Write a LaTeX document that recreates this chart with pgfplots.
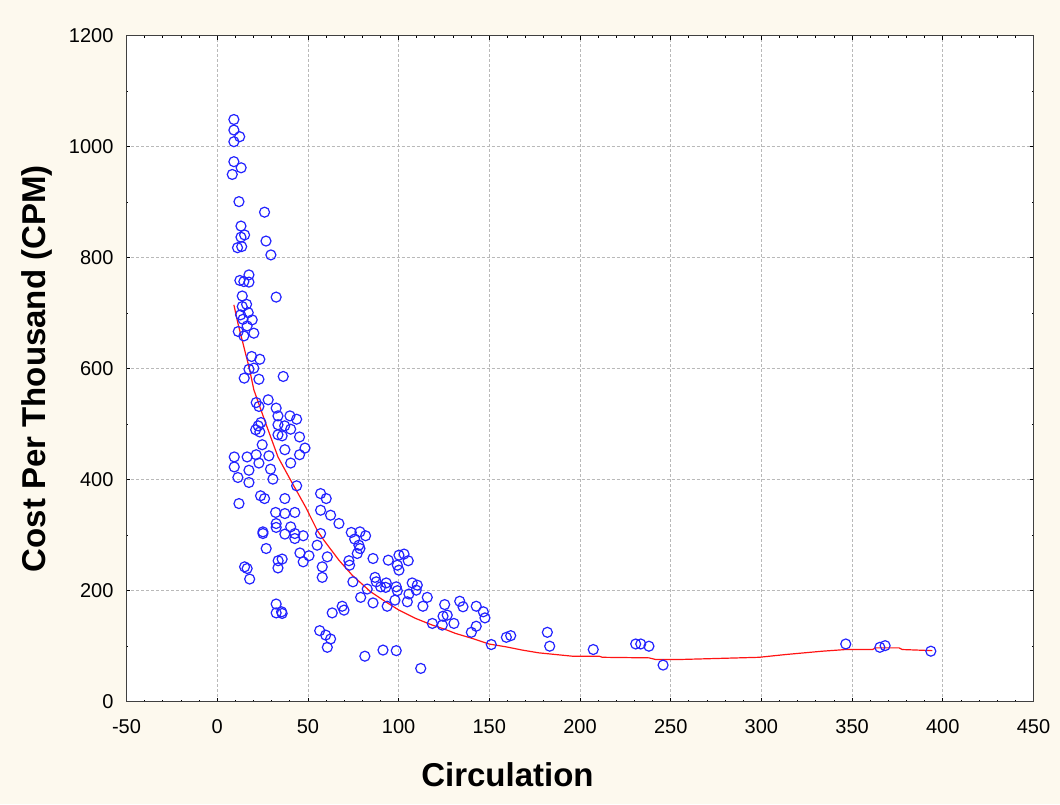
\documentclass[border=0pt]{standalone}
\usepackage{pgfplots}
\pgfplotsset{compat=1.18}
\usepackage{fontspec}
\setmainfont{Liberation Sans}
\definecolor{bgcream}{RGB}{253,249,238}
\definecolor{ptblue}{RGB}{35,35,255}
\definecolor{fitred}{RGB}{255,20,20}
\begin{document}
\begin{tikzpicture}
\fill[bgcream] (-63.25pt,-51.15pt) rectangle (466.75pt,350.85pt);
\begin{axis}[
  at={(0,0)}, anchor=south west,
  scale only axis, width=453.5pt, height=333pt,
  xmin=-50, xmax=450, ymin=0, ymax=1200,
  xtick={-50,0,50,100,150,200,250,300,350,400,450},
  xticklabels={-50,0,50,100,150,200,250,300,350,400,450},
  ytick={0,200,400,600,800,1000,1200},
  yticklabels={0,200,400,600,800,1000,1200},
  minor x tick num=4, minor y tick num=1,
  tick align=inside,
  major tick length=2pt, minor tick length=1pt,
  tick style={black, line width=0.4pt},
  axis line style={draw=black!75, line width=0.6pt},
  axis background/.style={fill=white},
  grid=major,
  major grid style={gray!55, dash pattern=on 1.5pt off 1pt, line width=0.4pt},
  tick label style={font=\fontsize{10}{12}\selectfont},
  xticklabel style={yshift=-5.5pt},
  yticklabel style={xshift=-3pt},
  label style={font=\fontsize{16.5}{20}\selectfont\bfseries},
  xlabel={Circulation},
  ylabel={Cost Per Thousand (CPM)},
  xlabel style={at={(axis description cs:0.42,-0.110)}, anchor=center},
  ylabel style={at={(axis description cs:-0.0987,0.5)}, anchor=center},
]
\addplot[only marks, mark=o, mark size=2.5pt, mark options={draw=ptblue, line width=0.6pt}] coordinates {
(9.2,1049) (9.2,1030) (12.4,1018) (9.2,1009) (9.2,973) (13.2,962) (8.3,950) (12.0,901)
(26.1,882) (13.1,857) (15.1,841) (13.1,837) (11.2,818) (13.5,820) (26.9,830) (29.6,805)
(17.5,769) (12.5,759) (14.7,757) (17.5,756) (13.8,731) (32.5,729) (16.2,716) (13.8,712)
(17.1,701) (12.9,697) (19.3,688) (14.2,689) (16.5,677) (11.6,667) (20.2,664) (14.7,659)
(19.0,622) (23.5,617) (17.5,599) (20.2,601) (14.9,583) (23.0,581) (36.4,586) (21.5,539)
(28.1,544) (23.0,532) (32.5,529) (33.5,515) (40.1,515) (43.8,509) (24.1,503) (22.6,497)
(33.5,499) (37.2,497) (40.5,491) (21.2,490) (23.5,486) (33.5,481) (35.8,479) (45.4,477)
(24.8,463) (37.3,454) (48.4,457) (45.4,445) (9.4,441) (16.5,441) (21.5,445) (28.5,443)
(23.0,430) (40.5,430) (9.4,423) (17.5,417) (29.4,419) (11.4,404) (17.5,395) (30.7,401)
(43.8,389) (23.9,371) (26.1,366) (12.0,357) (37.3,366) (32.2,341) (37.3,339) (42.8,341)
(32.5,321) (32.5,314) (40.5,315) (25.2,306) (25.2,303) (37.3,302) (42.8,303) (42.8,294)
(47.4,299) (27.0,276) (45.6,268) (50.6,263) (35.8,257) (33.6,254) (47.4,252) (33.5,241)
(15.1,243) (16.5,240) (17.9,221) (32.5,176) (32.5,160) (35.5,162) (35.8,159)
(57.0,375) (60.1,366) (57.0,345) (62.5,336) (67.1,321) (73.9,305) (78.7,306) (81.8,299)
(75.8,293) (78.1,282) (57.0,303) (55.1,282) (60.7,261) (57.9,243) (57.9,224) (78.7,276)
(77.2,267) (72.6,254) (73.0,246) (85.9,258) (94.3,255) (100.2,264) (103.0,266) (105.3,254)
(99.3,246) (100.2,237) (74.8,216) (87.0,224) (87.7,216) (93.2,214) (92.9,206) (90.1,207)
(98.7,207) (99.3,200) (107.5,214) (110.3,210) (109.7,201) (105.7,194) (104.8,180) (115.8,188)
(113.4,172) (125.4,175) (124.5,154) (118.6,141) (124.1,138) (79.1,188) (82.7,203) (85.9,178)
(93.7,172) (98.0,183) (63.4,160) (68.9,172) (69.9,165) (56.5,128) (59.8,120) (62.5,113)
(60.7,98) (81.4,82) (91.4,93) (98.7,92) (112.2,60) (126.8,156) (133.7,181) (135.5,171)
(130.5,141) (142.8,172) (146.7,162) (147.6,151) (142.8,136) (140.1,125) (151.1,103) (159.4,116)
(161.8,119) (182.0,125) (183.3,100) (207.3,94) (230.7,104) (233.5,104) (238.0,100) (245.8,66)
(346.5,104) (365.3,98) (368.2,101) (393.4,91)
};
\addplot[fitred, line width=0.6pt] coordinates {
(9.2,715) (11.4,682) (17.9,598) (20.2,562) (26.7,502) (33.5,441) (40.5,399) (44.1,378)
(48.7,351) (55.1,309) (58.8,291) (67.1,255) (74.4,228) (84.6,198) (92.9,180) (100.2,165)
(109.4,150) (118.6,138) (125.9,130) (131.4,123) (140.6,114) (149.8,104) (159,99) (168.2,93)
(177.4,88) (186.6,85) (195.8,82) (210.5,82) (212.3,80) (238,79) (241.7,76) (254.6,76)
(298.7,80) (313.4,85) (333.6,91) (346.5,94) (361.2,94) (363,97) (375.9,97) (377.7,94) (394.3,92)
};
\end{axis}
\pgfresetboundingbox
\useasboundingbox (-63.25pt,-51.15pt) rectangle (466.75pt,350.85pt);
\end{tikzpicture}
\end{document}
